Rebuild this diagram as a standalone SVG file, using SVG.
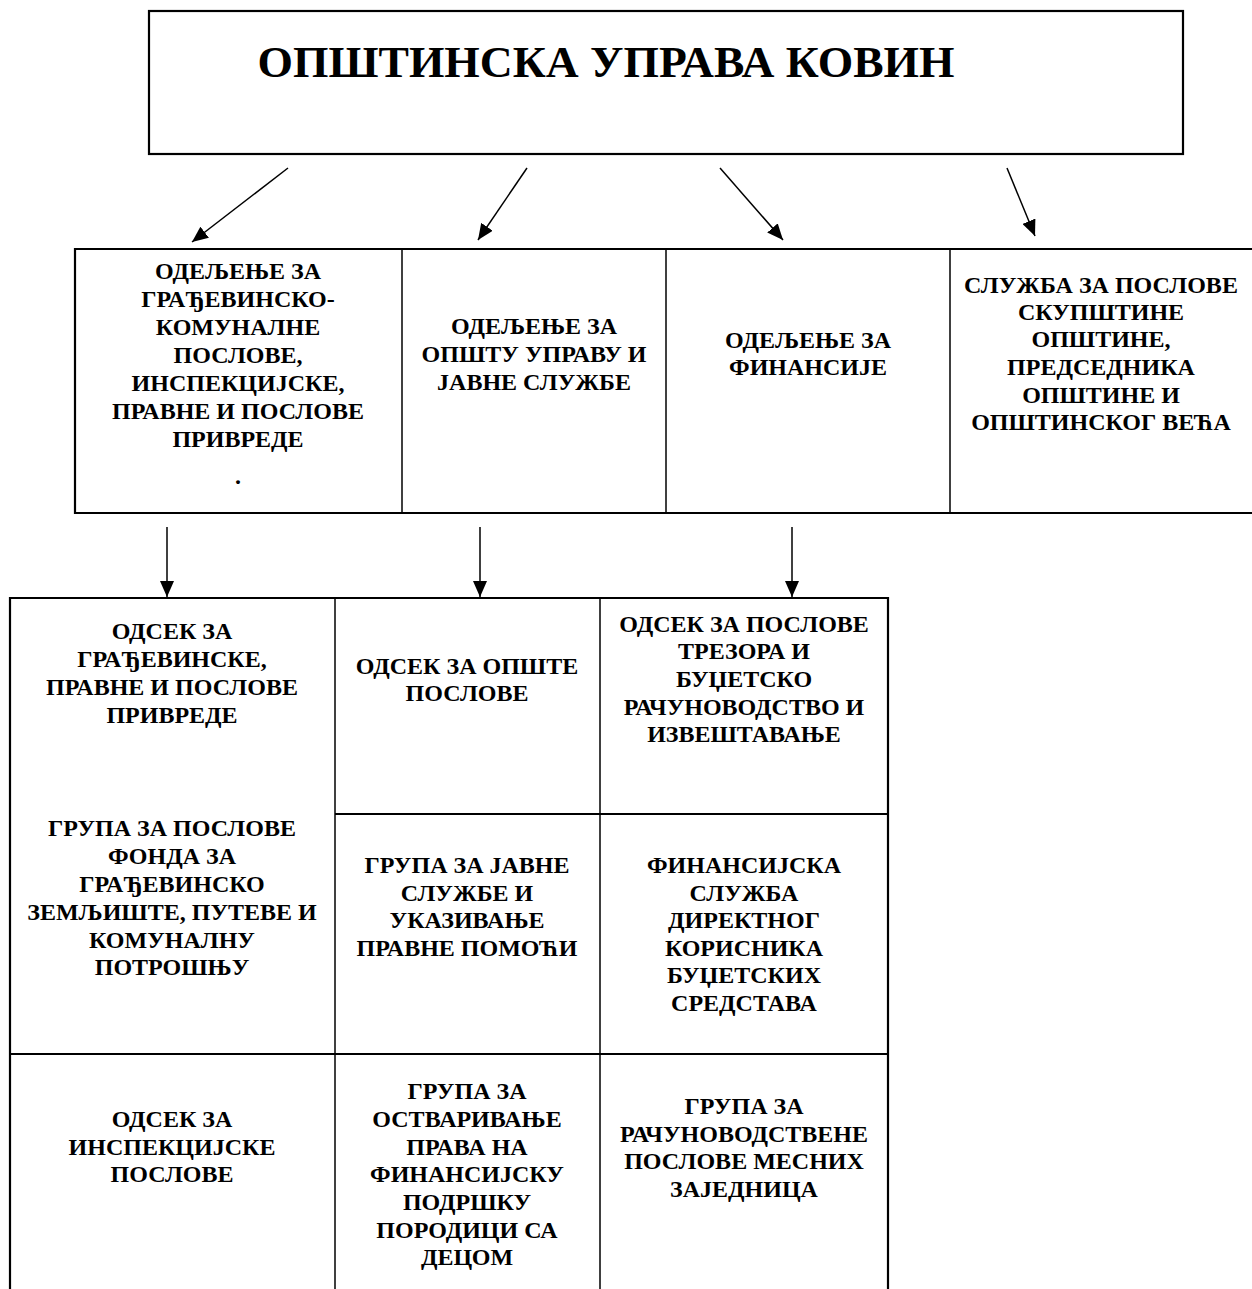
<svg xmlns="http://www.w3.org/2000/svg" width="1252" height="1289" viewBox="0 0 1252 1289">
<style>
.b{fill:none;stroke:#000;stroke-width:2.2}
.c{fill:none;stroke:#000;stroke-width:1.5}
text{font-family:"Liberation Serif","Times New Roman",serif;font-weight:bold;fill:#000;text-anchor:middle}
.t{font-size:24px}
.h{font-size:45px}
</style>
<defs>
<marker id="ah" viewBox="0 0 16 14" refX="16" refY="7" markerWidth="16" markerHeight="14" markerUnits="userSpaceOnUse" orient="auto">
<path d="M0,0 L16,7 L0,14 z" fill="#000"/>
</marker>
</defs>
<rect width="1252" height="1289" fill="#fff"/>
<g id="top">
<rect class="b" x="149" y="11" width="1034" height="143"/>
<text class="h" x="606" y="77" textLength="697" lengthAdjust="spacingAndGlyphs">ОПШТИНСКА УПРАВА КОВИН</text>
</g>
<g id="row2-frame">
<polyline class="b" points="1252,249 75,249 75,513 1252,513"/>
<line class="c" x1="402" y1="249" x2="402" y2="513"/>
<line class="c" x1="666" y1="249" x2="666" y2="513"/>
<line class="c" x1="950" y1="249" x2="950" y2="513"/>
</g>
<g id="n-gradjevinsko" class="t">
<text x="238" y="279">ОДЕЉЕЊЕ ЗА</text>
<text x="238" y="307">ГРАЂЕВИНСКО-</text>
<text x="238" y="335">КОМУНАЛНЕ</text>
<text x="238" y="363">ПОСЛОВЕ,</text>
<text x="238" y="391">ИНСПЕКЦИЈСКЕ,</text>
<text x="238" y="419">ПРАВНЕ И ПОСЛОВЕ</text>
<text x="238" y="447">ПРИВРЕДЕ</text>
<text x="238" y="484">.</text>
</g>
<g id="n-opsta" class="t">
<text x="534" y="334">ОДЕЉЕЊЕ ЗА</text>
<text x="534" y="362">ОПШТУ УПРАВУ И</text>
<text x="534" y="390">ЈАВНЕ СЛУЖБЕ</text>
</g>
<g id="n-finansije" class="t">
<text x="808" y="348">ОДЕЉЕЊЕ ЗА</text>
<text x="808" y="375">ФИНАНСИЈЕ</text>
</g>
<g id="n-sluzba" class="t">
<text x="1101" y="293">СЛУЖБА ЗА ПОСЛОВЕ</text>
<text x="1101" y="320">СКУПШТИНЕ</text>
<text x="1101" y="347">ОПШТИНЕ,</text>
<text x="1101" y="375">ПРЕДСЕДНИКА</text>
<text x="1101" y="403">ОПШТИНЕ И</text>
<text x="1101" y="430">ОПШТИНСКОГ ВЕЋА</text>
</g>
<g id="row3-frame">
<polyline class="b" points="10,1289 10,598 888,598 888,1289"/>
<line class="c" x1="335" y1="598" x2="335" y2="1289"/>
<line class="c" x1="600" y1="598" x2="600" y2="1289"/>
<line class="b" x1="335" y1="814" x2="888" y2="814"/>
<line class="b" x1="10" y1="1054" x2="888" y2="1054"/>
</g>
<g id="n-odsek-gradj" class="t">
<text x="172" y="639">ОДСЕК ЗА</text>
<text x="172" y="667">ГРАЂЕВИНСКЕ,</text>
<text x="172" y="695">ПРАВНЕ И ПОСЛОВЕ</text>
<text x="172" y="723">ПРИВРЕДЕ</text>
</g>
<g id="n-grupa-fond" class="t">
<text x="172" y="836">ГРУПА ЗА ПОСЛОВЕ</text>
<text x="172" y="864">ФОНДА ЗА</text>
<text x="172" y="892">ГРАЂЕВИНСКО</text>
<text x="172" y="920">ЗЕМЉИШТЕ, ПУТЕВЕ И</text>
<text x="172" y="948">КОМУНАЛНУ</text>
<text x="172" y="975">ПОТРОШЊУ</text>
</g>
<g id="n-odsek-insp" class="t">
<text x="172" y="1127">ОДСЕК ЗА</text>
<text x="172" y="1155">ИНСПЕКЦИЈСКЕ</text>
<text x="172" y="1182">ПОСЛОВЕ</text>
</g>
<g id="n-odsek-opste" class="t">
<text x="467" y="674">ОДСЕК ЗА ОПШТЕ</text>
<text x="467" y="701">ПОСЛОВЕ</text>
</g>
<g id="n-grupa-javne" class="t">
<text x="467" y="873">ГРУПА ЗА ЈАВНЕ</text>
<text x="467" y="901">СЛУЖБЕ И</text>
<text x="467" y="928">УКАЗИВАЊЕ</text>
<text x="467" y="956">ПРАВНЕ ПОМОЋИ</text>
</g>
<g id="n-grupa-fin-podrska" class="t">
<text x="467" y="1099">ГРУПА ЗА</text>
<text x="467" y="1127">ОСТВАРИВАЊЕ</text>
<text x="467" y="1155">ПРАВА НА</text>
<text x="467" y="1182">ФИНАНСИЈСКУ</text>
<text x="467" y="1210">ПОДРШКУ</text>
<text x="467" y="1238">ПОРОДИЦИ СА</text>
<text x="467" y="1265">ДЕЦОМ</text>
</g>
<g id="n-odsek-trezor" class="t">
<text x="744" y="632">ОДСЕК ЗА ПОСЛОВЕ</text>
<text x="744" y="659">ТРЕЗОРА И</text>
<text x="744" y="687">БУЏЕТСКО</text>
<text x="744" y="715">РАЧУНОВОДСТВО И</text>
<text x="744" y="742">ИЗВЕШТАВАЊЕ</text>
</g>
<g id="n-fin-sluzba" class="t">
<text x="744" y="873">ФИНАНСИЈСКА</text>
<text x="744" y="901">СЛУЖБА</text>
<text x="744" y="928">ДИРЕКТНОГ</text>
<text x="744" y="956">КОРИСНИКА</text>
<text x="744" y="983">БУЏЕТСКИХ</text>
<text x="744" y="1011">СРЕДСТАВА</text>
</g>
<g id="n-grupa-rac" class="t">
<text x="744" y="1114">ГРУПА ЗА</text>
<text x="744" y="1142">РАЧУНОВОДСТВЕНЕ</text>
<text x="744" y="1169">ПОСЛОВЕ МЕСНИХ</text>
<text x="744" y="1197">ЗАЈЕДНИЦА</text>
</g>
<g id="connectors">
<line class="c" x1="288" y1="168" x2="192" y2="242" marker-end="url(#ah)"/>
<line class="c" x1="527" y1="168" x2="478" y2="240" marker-end="url(#ah)"/>
<line class="c" x1="720" y1="168" x2="783" y2="240" marker-end="url(#ah)"/>
<line class="c" x1="1007" y1="168" x2="1035" y2="236" marker-end="url(#ah)"/>
<line class="c" x1="167" y1="527" x2="167" y2="597" marker-end="url(#ah)"/>
<line class="c" x1="480" y1="527" x2="480" y2="597" marker-end="url(#ah)"/>
<line class="c" x1="792" y1="527" x2="792" y2="597" marker-end="url(#ah)"/>
</g>
</svg>
